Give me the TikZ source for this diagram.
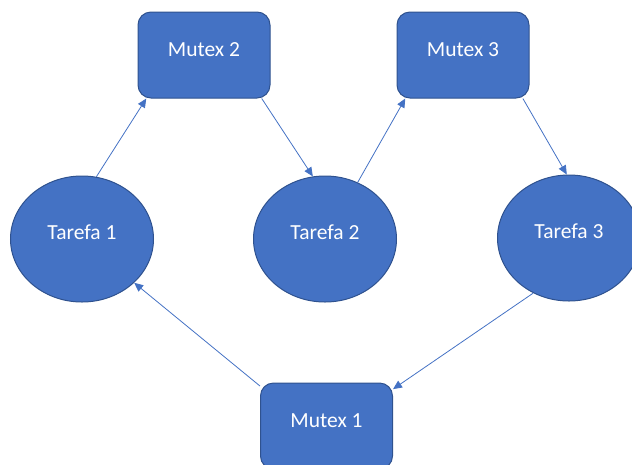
\documentclass[tikz,border=0pt]{standalone}
\usepackage{fontspec}
\setmainfont{Carlito}
\usetikzlibrary{shapes.geometric,arrows.meta}
\definecolor{boxfill}{HTML}{4472C4}
\definecolor{boxline}{HTML}{2F528F}
\begin{document}
\begin{tikzpicture}[x=1pt,y=-1pt,
  mutexbox/.style={draw=boxline,fill=boxfill,line width=1pt,rounded corners=13pt,
    minimum width=132pt,minimum height=86pt,inner sep=0pt,text=white,
    font=\fontsize{21.5}{25}\selectfont,text depth=10pt},
  taskbox/.style={ellipse,draw=boxline,fill=boxfill,line width=1pt,
    minimum width=143pt,minimum height=126pt,inner sep=0pt,text=white,
    font=\fontsize{21.5}{25}\selectfont,text depth=13pt},
  link/.style={draw=boxfill,line width=0.8pt,-{Triangle[length=9pt,width=8pt]}}]
  \useasboundingbox (0,0) rectangle (632,464);
  \clip (0,0) rectangle (632,464);
  % mutexes
  \node[mutexbox] (m2) at (204,55) {Mutex 2};
  \node[mutexbox] (m3) at (463,55) {Mutex 3};
  \node[mutexbox] (m1) at (326.5,426) {Mutex 1};
  % tasks
  \node[taskbox] (t1) at (82,239) {Tarefa 1};
  \node[taskbox] (t2) at (325,239) {Tarefa 2};
  \node[taskbox] (t3) at (569,238) {Tarefa 3};
  % lock order
  \draw[link] (t1.77.7) -- (m2.217);
  \draw[link] (m2.323.9) -- (t2.101.7);
  \draw[link] (t2.60.7) -- (m3.217.7);
  \draw[link] (m3.324.3) -- (t3.92.8);
  \draw[link] (t3.237) -- (m1.29.7);
  \draw[link] (m1.149.1) -- (t1.320.7);
\end{tikzpicture}
\end{document}
